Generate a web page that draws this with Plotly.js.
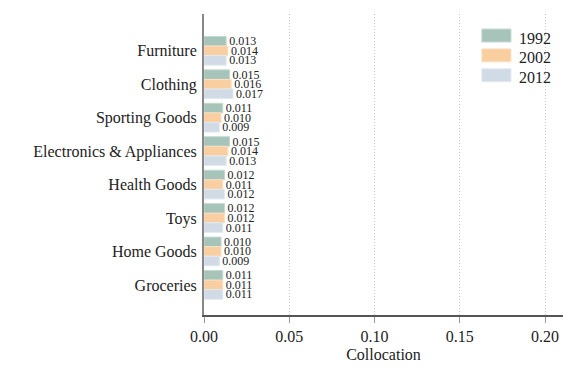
<!DOCTYPE html>
<html>
<head>
<meta charset="utf-8">
<script src="https://cdn.plot.ly/plotly-3.0.1.min.js"></script>
<style>
  html, body { margin: 0; padding: 0; background: #fff; }
  #chart { width: 578px; height: 389px; }
</style>
</head>
<body>
<div id="chart"></div>
<script>
var categories = ['Furniture', 'Clothing', 'Sporting Goods', 'Electronics & Appliances',
                  'Health Goods', 'Toys', 'Home Goods', 'Groceries'];
var v1992 = [0.013, 0.015, 0.011, 0.015, 0.012, 0.012, 0.010, 0.011];
var v2002 = [0.014, 0.016, 0.010, 0.014, 0.011, 0.012, 0.010, 0.011];
var v2012 = [0.013, 0.017, 0.009, 0.013, 0.012, 0.011, 0.009, 0.011];
var years = ['1992', '2002', '2012'];

var fills = ['#a6c4b9', '#f9cfa2', '#d0dbe6'];
var edges = ['#c4d8d1', '#fbe0c2', '#e2e9f0'];
var serif = 'Liberation Serif, Times New Roman, serif';

function series(vals, i) {
  return {
    type: 'bar',
    orientation: 'h',
    name: years[i],
    x: vals,
    y: categories,
    marker: { color: fills[i], line: { color: edges[i], width: 1 } },
    text: vals.map(function (v) { return v.toFixed(3); }),
    textposition: 'outside',
    constraintext: 'none',
    cliponaxis: false,
    textfont: { family: serif, size: 12, color: '#222' },
    showlegend: false
  };
}

var data = [series(v1992, 0), series(v2002, 1), series(v2012, 2)];

// legend drawn by hand so the swatches are wide rectangles like the original
var shapes = [], annotations = [];
var swTop = [0.950, 0.884, 0.818];
years.forEach(function (yr, i) {
  shapes.push({
    type: 'rect', xref: 'paper', yref: 'paper',
    x0: 0.774, x1: 0.855, y0: swTop[i] - 0.043, y1: swTop[i],
    fillcolor: fills[i], line: { color: edges[i], width: 1 }
  });
  annotations.push({
    xref: 'paper', yref: 'paper', x: 0.872, y: swTop[i] - 0.030,
    xanchor: 'left', yanchor: 'middle', showarrow: false,
    text: yr, font: { family: serif, size: 16, color: '#222' }
  });
});

var layout = {
  width: 578,
  height: 389,
  margin: { l: 204, r: 15, t: 14, b: 74 },
  paper_bgcolor: '#fff',
  plot_bgcolor: '#fff',
  font: { family: serif, size: 16, color: '#222' },
  barmode: 'group',
  bargap: 0.14,
  bargroupgap: 0,
  showlegend: false,
  shapes: shapes,
  annotations: annotations,
  xaxis: {
    range: [0, 0.2105],
    tickvals: [0, 0.05, 0.10, 0.15, 0.20],
    ticktext: ['0.00', '0.05', '0.10', '0.15', '0.20'],
    showgrid: true,
    gridcolor: '#c8c8c8',
    griddash: '1px,2px',
    gridwidth: 1,
    zeroline: false,
    showline: true,
    linecolor: '#555',
    linewidth: 2,
    ticks: 'outside',
    ticklen: 6,
    tickcolor: '#999',
    tickfont: { family: serif, size: 16, color: '#222' },
    title: { text: 'Collocation', font: { family: serif, size: 16, color: '#222' }, standoff: 5 }
  },
  yaxis: {
    type: 'category',
    range: [7.9, -1.1],
    showgrid: false,
    zeroline: false,
    showline: true,
    linecolor: '#888',
    linewidth: 2,
    ticks: '',
    ticklabelstandoff: 2,
    tickfont: { family: serif, size: 16, color: '#222' }
  }
};

Plotly.newPlot('chart', data, layout, { displayModeBar: false, staticPlot: true });
</script>
</body>
</html>
